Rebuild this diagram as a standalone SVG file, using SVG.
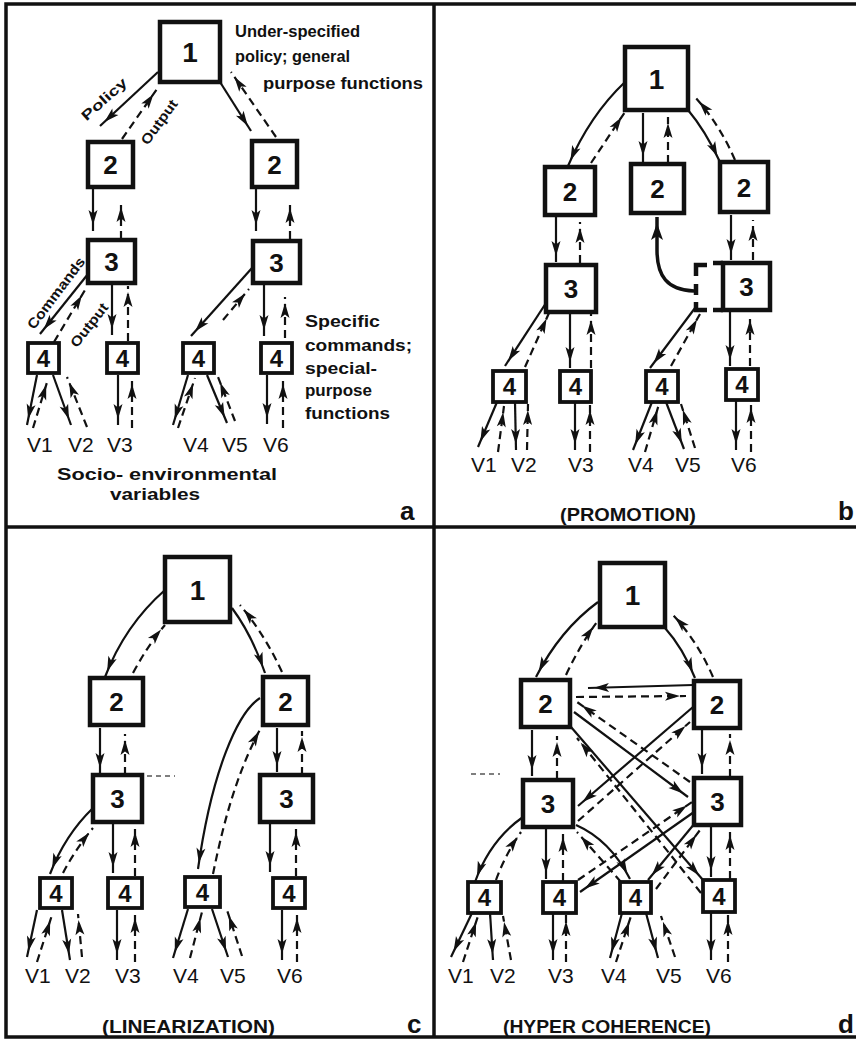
<svg xmlns="http://www.w3.org/2000/svg" width="856" height="1041" viewBox="0 0 856 1041">
<defs>
<marker id="ah" markerUnits="userSpaceOnUse" markerWidth="24" markerHeight="12" refX="21" refY="5" orient="auto" overflow="visible"><path d="M0,0.5 L15,5 L0,9.5 L3.5,5 Z" fill="#111"/></marker>
<marker id="ahb" markerUnits="userSpaceOnUse" markerWidth="26" markerHeight="14" refX="23" refY="6" orient="auto" overflow="visible"><path d="M0,0 L17,6 L0,12 L4,6 Z" fill="#111"/></marker>
</defs>
<style>
.bx{fill:#fff;stroke:#111;stroke-width:4.5}
.b4{fill:#fff;stroke:#111;stroke-width:3.8}
.s{fill:none;stroke:#111;stroke-width:2.2;marker-end:url(#ah)}
.d{fill:none;stroke:#111;stroke-width:2.2;stroke-dasharray:8 5;marker-end:url(#ah)}
.fr{fill:none;stroke:#111;stroke-width:3.5}
.n1,.n2,.n4{font-family:"Liberation Sans",Arial,sans-serif;font-weight:bold;text-anchor:middle;fill:#111}
.n1{font-size:28px}
.n2{font-size:26px}
.n4{font-size:24px}
.v{font-family:"Liberation Sans",Arial,sans-serif;font-size:21px;fill:#111}
.t{font-family:"Liberation Sans",Arial,sans-serif;font-weight:bold;font-size:16px;fill:#111}
.r{font-family:"Liberation Sans",Arial,sans-serif;font-weight:bold;font-size:14px;fill:#111;text-anchor:middle}
.cap{font-family:"Liberation Sans",Arial,sans-serif;font-weight:bold;font-size:18px;fill:#111}
.lt{font-family:"Liberation Sans",Arial,sans-serif;font-weight:bold;font-size:26px;fill:#111}
.art{fill:none;stroke:#555;stroke-width:1.3;stroke-dasharray:5 4}
</style>
<rect x="0" y="0" width="856" height="1041" fill="#fff"/>
<g id="frame">
<rect class="fr" x="6" y="4" width="870" height="1033"/>
<line class="fr" x1="434" y1="4" x2="434" y2="1037"/>
<line class="fr" x1="6" y1="527" x2="856" y2="527"/>
</g>

<!-- ===== Panel a ===== -->
<g id="a-n1"><rect class="bx" x="160" y="22" width="60" height="60"/><text class="n1" x="190" y="62">1</text></g>
<g id="a-n2L"><rect class="bx" x="88" y="142" width="45" height="45"/><text class="n2" x="110.5" y="174">2</text></g>
<g id="a-n2R"><rect class="bx" x="252" y="141" width="45" height="46"/><text class="n2" x="274.5" y="173.5">2</text></g>
<g id="a-n3L"><rect class="bx" x="88" y="240" width="47" height="43"/><text class="n2" x="111.5" y="271">3</text></g>
<g id="a-n3R"><rect class="bx" x="253" y="241" width="47" height="42"/><text class="n2" x="276.5" y="271.5">3</text></g>
<g id="a-n4a"><rect class="b4" x="28" y="343" width="31" height="30"/><text class="n4" x="43.5" y="366.5">4</text></g>
<g id="a-n4b"><rect class="b4" x="107" y="343" width="31" height="30"/><text class="n4" x="122.5" y="366.5">4</text></g>
<g id="a-n4c"><rect class="b4" x="183" y="343" width="31" height="30"/><text class="n4" x="198.5" y="366.5">4</text></g>
<g id="a-n4d"><rect class="b4" x="261" y="343" width="31" height="30"/><text class="n4" x="276.5" y="366.5">4</text></g>
<g id="a-labels">
<text class="t" x="235" y="37" textLength="125" lengthAdjust="spacingAndGlyphs">Under-specified</text>
<text class="t" x="235" y="62" textLength="115" lengthAdjust="spacingAndGlyphs">policy; general</text>
<text class="t" x="263" y="89" textLength="160" lengthAdjust="spacingAndGlyphs">purpose  functions</text>
<text class="r" transform="translate(104,99) rotate(-42)" y="5" textLength="56" lengthAdjust="spacingAndGlyphs">Policy</text>
<text class="r" transform="translate(159,122) rotate(-54)" y="5" textLength="52" lengthAdjust="spacingAndGlyphs">Output</text>
<text class="r" transform="translate(56,293) rotate(-53)" y="5" textLength="86" lengthAdjust="spacingAndGlyphs">Commands</text>
<text class="r" transform="translate(89,325) rotate(-52)" y="5" textLength="52" lengthAdjust="spacingAndGlyphs">Output</text>
<text class="t" x="305" y="327" font-size="18" textLength="75" lengthAdjust="spacingAndGlyphs">Specific</text>
<text class="t" x="305" y="351" font-size="18" textLength="107" lengthAdjust="spacingAndGlyphs">commands;</text>
<text class="t" x="305" y="374" font-size="18" textLength="72" lengthAdjust="spacingAndGlyphs">special-</text>
<text class="t" x="305" y="396" font-size="18" textLength="67" lengthAdjust="spacingAndGlyphs">purpose</text>
<text class="t" x="305" y="419" font-size="18" textLength="85" lengthAdjust="spacingAndGlyphs">functions</text>
<text class="v" x="27" y="452">V1</text>
<text class="v" x="68" y="452">V2</text>
<text class="v" x="107" y="452">V3</text>
<text class="v" x="183" y="452">V4</text>
<text class="v" x="222" y="452">V5</text>
<text class="v" x="263" y="452">V6</text>
<text class="t" x="57" y="480" font-size="20" textLength="220" lengthAdjust="spacingAndGlyphs">Socio- environmental</text>
<text class="t" x="110" y="500" font-size="20" textLength="90" lengthAdjust="spacingAndGlyphs">variables</text>
<text class="lt" x="400" y="520">a</text>
</g>

<!-- ===== Panel b ===== -->
<g id="b-n1"><rect class="bx" x="625" y="47" width="63" height="63"/><text class="n1" x="656.5" y="88.5">1</text></g>
<g id="b-n2a"><rect class="bx" x="545" y="167" width="50" height="48"/><text class="n2" x="570" y="200.5">2</text></g>
<g id="b-n2b"><rect class="bx" x="631" y="164" width="53" height="49"/><text class="n2" x="657.5" y="198">2</text></g>
<g id="b-n2c"><rect class="bx" x="720" y="162" width="48" height="50"/><text class="n2" x="744" y="196.5">2</text></g>
<g id="b-n3a"><rect class="bx" x="546" y="265" width="50" height="47"/><text class="n2" x="571" y="298">3</text></g>
<g id="b-n3b"><rect class="bx" x="723" y="263" width="47" height="47"/><path d="M723,263 H713 M723,310 H713" fill="none" stroke="#111" stroke-width="4.5"/><text class="n2" x="746.5" y="296">3</text></g>
<g id="b-n3p"><path d="M707,265 H696 V276 M696,284 V295 M696,302 V310 H707" fill="none" stroke="#111" stroke-width="4.5"/></g>
<g id="b-n4a"><rect class="b4" x="493" y="371" width="33" height="31"/><text class="n4" x="509.5" y="395">4</text></g>
<g id="b-n4b"><rect class="b4" x="560" y="371" width="31" height="31"/><text class="n4" x="575.5" y="395">4</text></g>
<g id="b-n4c"><rect class="b4" x="646" y="371" width="32" height="31"/><text class="n4" x="662" y="395">4</text></g>
<g id="b-n4d"><rect class="b4" x="726" y="369" width="32" height="31"/><text class="n4" x="742" y="393">4</text></g>
<g id="b-labels">
<text class="v" x="471" y="472">V1</text>
<text class="v" x="511" y="472">V2</text>
<text class="v" x="568" y="472">V3</text>
<text class="v" x="628" y="472">V4</text>
<text class="v" x="675" y="472">V5</text>
<text class="v" x="731" y="472">V6</text>
<text class="cap" x="560" y="521" textLength="136" lengthAdjust="spacingAndGlyphs">(PROMOTION)</text>
<text class="lt" x="838" y="520">b</text>
</g>

<!-- ===== Panel c ===== -->
<g id="c-n1"><rect class="bx" x="165" y="557" width="65" height="65"/><text class="n1" x="197.5" y="599.5">1</text></g>
<g id="c-n2L"><rect class="bx" x="90" y="678" width="53" height="47"/><text class="n2" x="116.5" y="711">2</text></g>
<g id="c-n2R"><rect class="bx" x="263" y="677" width="45" height="48"/><text class="n2" x="285.5" y="710.5">2</text></g>
<g id="c-n3L"><rect class="bx" x="93" y="775" width="49" height="47"/><text class="n2" x="117.5" y="808">3</text></g>
<g id="c-n3R"><rect class="bx" x="260" y="775" width="53" height="47"/><text class="n2" x="286.5" y="808">3</text></g>
<g id="c-n4a"><rect class="b4" x="40" y="878" width="32" height="30"/><text class="n4" x="56" y="901.5">4</text></g>
<g id="c-n4b"><rect class="b4" x="108" y="878" width="34" height="30"/><text class="n4" x="125" y="901.5">4</text></g>
<g id="c-n4c"><rect class="b4" x="185" y="877" width="35" height="30"/><text class="n4" x="202.5" y="900.5">4</text></g>
<g id="c-n4d"><rect class="b4" x="273" y="878" width="32" height="30"/><text class="n4" x="289" y="901.5">4</text></g>
<g id="c-labels">
<text class="v" x="25" y="983">V1</text>
<text class="v" x="65" y="983">V2</text>
<text class="v" x="115" y="983">V3</text>
<text class="v" x="173" y="983">V4</text>
<text class="v" x="220" y="983">V5</text>
<text class="v" x="277" y="983">V6</text>
<text class="cap" x="102" y="1033" textLength="173" lengthAdjust="spacingAndGlyphs">(LINEARIZATION)</text>
<text class="lt" x="407" y="1033">c</text>
</g>

<!-- ===== Panel d ===== -->
<g id="d-n1"><rect class="bx" x="600" y="563" width="65" height="64"/><text class="n1" x="632.5" y="605">1</text></g>
<g id="d-n2L"><rect class="bx" x="521" y="680" width="49" height="47"/><text class="n2" x="545.5" y="713">2</text></g>
<g id="d-n2R"><rect class="bx" x="694" y="681" width="46" height="47"/><text class="n2" x="717" y="714">2</text></g>
<g id="d-n3L"><rect class="bx" x="523" y="780" width="50" height="47"/><text class="n2" x="548" y="813">3</text></g>
<g id="d-n3R"><rect class="bx" x="694" y="778" width="47" height="47"/><text class="n2" x="717.5" y="811">3</text></g>
<g id="d-n4a"><rect class="b4" x="468" y="882" width="33" height="31"/><text class="n4" x="484.5" y="906">4</text></g>
<g id="d-n4b"><rect class="b4" x="543" y="882" width="33" height="31"/><text class="n4" x="559.5" y="906">4</text></g>
<g id="d-n4c"><rect class="b4" x="620" y="882" width="31" height="31"/><text class="n4" x="635.5" y="906">4</text></g>
<g id="d-n4d"><rect class="b4" x="703" y="880" width="32" height="32"/><text class="n4" x="719" y="904.5">4</text></g>
<g id="d-labels">
<text class="v" x="448" y="983">V1</text>
<text class="v" x="490" y="983">V2</text>
<text class="v" x="548" y="983">V3</text>
<text class="v" x="601" y="983">V4</text>
<text class="v" x="656" y="983">V5</text>
<text class="v" x="706" y="983">V6</text>
<text class="cap" x="503" y="1033" textLength="208" lengthAdjust="spacingAndGlyphs">(HYPER COHERENCE)</text>
<text class="lt" x="838" y="1033">d</text>
</g>

<g id="connectors">
<!-- a -->
<path class="s" d="M158,72 L100,126"/>
<path class="d" d="M122,139 L157,89"/>
<path class="s" d="M220,82 L251,131"/>
<path class="d" d="M276,137 L231,72"/>
<path class="s" d="M93,189 L93,231"/>
<path class="d" d="M121,239 L121,201"/>
<path class="s" d="M256,189 L256,231"/>
<path class="d" d="M290,239 L290,202"/>
<path class="s" d="M88,274 L40,334"/>
<path class="d" d="M54,342 L85,290"/>
<path class="s" d="M112,285 L112,335"/>
<path class="d" d="M128,341 L128,286"/>
<path class="s" d="M252,268 L191,336"/>
<path class="d" d="M223,320 L249,289"/>
<path class="s" d="M264,285 L264,336"/>
<path class="d" d="M285,338 L285,297"/>
<path class="s" d="M37,375 L27,425"/>
<path class="d" d="M33,428 L48,379"/>
<path class="s" d="M53,375 L71,425"/>
<path class="d" d="M87,427 L67,377"/>
<path class="s" d="M118,375 L118,425"/>
<path class="d" d="M132,428 L132,378"/>
<path class="s" d="M188,375 L173,425"/>
<path class="d" d="M178,428 L195,378"/>
<path class="s" d="M207,375 L227,423"/>
<path class="d" d="M235,421 L218,377"/>
<path class="s" d="M267,375 L267,424"/>
<path class="d" d="M283,428 L283,378"/>
<!-- b -->
<path class="s" d="M625,82 Q590,115 568,166"/>
<path class="d" d="M591,163 L625,112"/>
<path class="s" d="M643,113 L643,162"/>
<path class="d" d="M668,163 L668,117"/>
<path class="s" d="M688,110 Q705,130 720,162"/>
<path class="d" d="M735,160 Q720,125 695,97"/>
<path class="s" d="M556,217 L556,262"/>
<path class="d" d="M580,263 L580,222"/>
<path d="M694,291 C667,290 657,276 657,250 L657,217" fill="none" stroke="#111" stroke-width="3.5" marker-end="url(#ahb)"/>
<path class="s" d="M731,215 L731,260"/>
<path class="d" d="M753,260 L753,220"/>
<path class="s" d="M546,303 L505,366"/>
<path class="d" d="M525,367 L549,313"/>
<path class="s" d="M570,314 L570,368"/>
<path class="d" d="M591,368 L591,314"/>
<path class="s" d="M695,308 L650,368"/>
<path class="d" d="M671,366 L700,314"/>
<path class="s" d="M730,312 L730,366"/>
<path class="d" d="M750,366 L750,314"/>
<path class="s" d="M497,402 L478,447"/>
<path class="d" d="M498,452 L504,406"/>
<path class="s" d="M515,402 L516,450"/>
<path class="d" d="M527,450 L528,404"/>
<path class="s" d="M575,402 L575,450"/>
<path class="d" d="M590,452 L590,404"/>
<path class="s" d="M652,402 L633,450"/>
<path class="d" d="M645,452 L659,404"/>
<path class="s" d="M666,402 L684,449"/>
<path class="d" d="M695,448 L681,404"/>
<path class="s" d="M736,400 L736,450"/>
<path class="d" d="M751,452 L751,402"/>
<!-- c -->
<path class="s" d="M165,590 Q125,625 105,677"/>
<path class="d" d="M133,673 Q148,645 165,625"/>
<path class="s" d="M232,608 Q252,635 265,673"/>
<path class="d" d="M282,672 Q265,635 240,605"/>
<path class="s" d="M100,728 L100,774"/>
<path class="d" d="M125,775 L125,734"/>
<path class="s" d="M277,728 L277,772"/>
<path class="d" d="M302,775 L302,731"/>
<path class="s" d="M260,698 C238,712 212,770 198,869"/>
<path class="d" d="M213,874 C222,830 235,775 262,726"/>
<path class="s" d="M93,808 Q65,835 50,874"/>
<path class="d" d="M63,873 Q75,850 93,828"/>
<path class="s" d="M113,824 L113,873"/>
<path class="d" d="M135,876 L135,826"/>
<path class="s" d="M270,824 L270,872"/>
<path class="d" d="M296,876 L296,826"/>
<path class="s" d="M37,910 L27,957"/>
<path class="d" d="M37,962 L52,915"/>
<path class="s" d="M62,910 L70,960"/>
<path class="d" d="M82,957 L78,914"/>
<path class="s" d="M117,910 L117,960"/>
<path class="d" d="M135,962 L135,912"/>
<path class="s" d="M188,909 L173,958"/>
<path class="d" d="M190,958 L202,912"/>
<path class="s" d="M212,909 L228,957"/>
<path class="d" d="M242,956 L227,910"/>
<path class="s" d="M282,910 L282,960"/>
<path class="d" d="M297,962 L297,912"/>
<path class="art" d="M147,776 L175,776"/>
<!-- d -->
<path class="s" d="M598,602 Q560,630 536,677"/>
<path class="d" d="M566,675 Q580,645 597,622"/>
<path class="s" d="M665,628 Q683,648 695,678"/>
<path class="d" d="M713,677 Q697,640 671,613"/>
<path class="s" d="M693,685 L588,688"/>
<path class="d" d="M576,697 L686,696"/>
<path class="s" d="M532,730 L532,776"/>
<path class="d" d="M557,779 L557,736"/>
<path class="s" d="M702,730 L702,774"/>
<path class="d" d="M730,777 L730,734"/>
<path class="s" d="M693,707 L578,806"/>
<path class="d" d="M578,821 L690,722"/>
<path class="s" d="M574,712 L688,797"/>
<path class="d" d="M690,782 L577,702"/>
<path class="s" d="M571,727 L703,880"/>
<path class="d" d="M701,893 L577,738"/>
<path class="s" d="M576,825 Q610,840 630,879"/>
<path class="d" d="M621,882 L577,832"/>
<path class="s" d="M694,812 L580,892"/>
<path class="d" d="M578,880 L692,802"/>
<path class="s" d="M695,823 L648,880"/>
<path class="d" d="M656,889 L700,830"/>
<path class="s" d="M523,817 Q490,840 475,882"/>
<path class="d" d="M496,880 Q505,855 521,832"/>
<path class="s" d="M546,829 L546,879"/>
<path class="d" d="M563,881 L563,831"/>
<path class="s" d="M711,827 L711,877"/>
<path class="d" d="M730,879 L730,829"/>
<path class="s" d="M472,913 L451,957"/>
<path class="d" d="M463,962 L478,916"/>
<path class="s" d="M490,913 L493,960"/>
<path class="d" d="M511,960 L503,916"/>
<path class="s" d="M553,913 L553,960"/>
<path class="d" d="M566,962 L566,915"/>
<path class="s" d="M622,913 L610,958"/>
<path class="d" d="M616,962 L631,916"/>
<path class="s" d="M646,913 L658,958"/>
<path class="d" d="M675,957 L661,916"/>
<path class="s" d="M711,912 L711,960"/>
<path class="d" d="M728,962 L728,914"/>
<path class="art" d="M471,774 L500,774"/>
</g>
</svg>
